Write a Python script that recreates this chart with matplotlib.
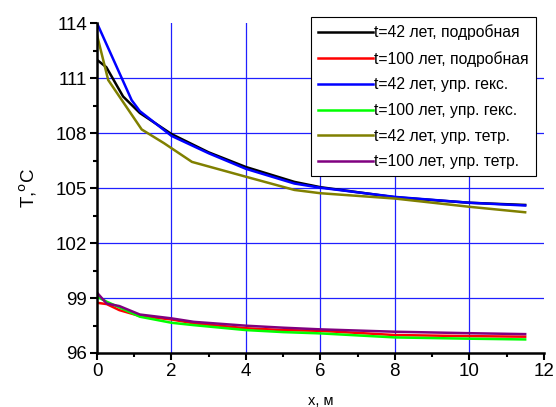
import numpy as np
import matplotlib
matplotlib.use("Agg")
from matplotlib import pyplot as plt
from matplotlib.ticker import MultipleLocator

plt.rcParams['font.family'] = ['Liberation Sans', 'DejaVu Sans']

# t=42 years, detailed model
x_det42 = [0, 0.25, 0.7, 1.15, 2, 3, 4, 5.3, 6, 8, 10, 11.5]
t_det42 = [112.0, 111.6, 110.0, 109.1, 107.95, 106.95, 106.15, 105.34, 105.05, 104.5, 104.2, 104.08]

# t=42 years, simplified hex
x_hex42 = [0, 0.93, 1.15, 2, 3, 4, 5.3, 6, 8, 10, 11.5]
t_hex42 = [114.0, 109.8, 109.2, 107.85, 106.9, 106.05, 105.25, 105.02, 104.52, 104.2, 104.05]

# t=42 years, simplified tetra
x_tet42 = [0, 0.3, 1.2, 1.8, 2.55, 4, 5.3, 6, 8, 10, 11.5]
t_tet42 = [113.35, 110.9, 108.2, 107.45, 106.43, 105.62, 104.9, 104.72, 104.43, 103.98, 103.68]

# t=100 years
x_100 = [0, 0.26, 0.6, 1.15, 2, 2.6, 4, 5, 6, 8, 10, 11.5]
t_det100 = [98.74, 98.67, 98.34, 98.02, 97.83, 97.62, 97.35, 97.25, 97.21, 96.98, 96.92, 96.89]
t_hex100 = [99.07, 98.8, 98.49, 97.98, 97.65, 97.52, 97.25, 97.14, 97.07, 96.85, 96.78, 96.74]
t_tet100 = [99.29, 98.7, 98.56, 98.1, 97.89, 97.7, 97.49, 97.38, 97.29, 97.16, 97.08, 97.03]

labels = ["t=42 лет, подробная", "t=100 лет, подробная", "t=42 лет, упр. гекс.",
          "t=100 лет, упр. гекс.", "t=42 лет, упр. тетр.", "t=100 лет, упр. тетр."]

fig = plt.figure(figsize=(5.56, 4.07), dpi=100)
ax = fig.add_axes([0.1745, 0.1327, 0.8035, 0.8103])

for xv in [2, 4, 6, 8, 10]:
    ax.axvline(xv, color='#2020ff', lw=0.9, zorder=0)
for yv in [99, 102, 105, 108, 111]:
    ax.axhline(yv, color='#2020ff', lw=0.9, zorder=0)

lw = 1.8
ax.plot(x_det42, t_det42, color='black', lw=lw, label=labels[0])
ax.plot(x_100, t_det100, color='red', lw=lw, label=labels[1])
ax.plot(x_hex42, t_hex42, color='blue', lw=lw, label=labels[2])
ax.plot(x_100, t_hex100, color='#00ff00', lw=lw, label=labels[3])
ax.plot(x_tet42, t_tet42, color='#808000', lw=lw, label=labels[4])
ax.plot(x_100, t_tet100, color='#800080', lw=lw, label=labels[5])

ax.set_xlim(0, 12)
ax.set_ylim(96, 114)
ax.xaxis.set_major_locator(MultipleLocator(2))
ax.xaxis.set_minor_locator(MultipleLocator(1))
ax.yaxis.set_major_locator(MultipleLocator(3))
ax.yaxis.set_minor_locator(MultipleLocator(1.5))
ax.spines['top'].set_visible(False)
ax.spines['right'].set_visible(False)
ax.spines['left'].set_linewidth(1.8)
ax.spines['bottom'].set_linewidth(1.8)
ax.tick_params(which='major', direction='out', length=5, width=1.5, labelsize=13.5, pad=2)
ax.tick_params(which='minor', direction='out', length=3, width=1.5)

ax.set_xlabel("x, м", fontsize=10.5, labelpad=10)
ax.set_ylabel("T,$^{\\mathrm{o}}$C", fontsize=13.5, labelpad=12)

leg = ax.legend(loc='upper right', bbox_to_anchor=(0.982, 1.018), fontsize=11.3,
                frameon=True, fancybox=False, edgecolor='black', framealpha=1,
                handlelength=3.5, handletextpad=0.05, labelspacing=0.68,
                borderpad=0.45, borderaxespad=0)
leg.get_frame().set_linewidth(0.8)

fig.savefig("out.png", dpi=100)
